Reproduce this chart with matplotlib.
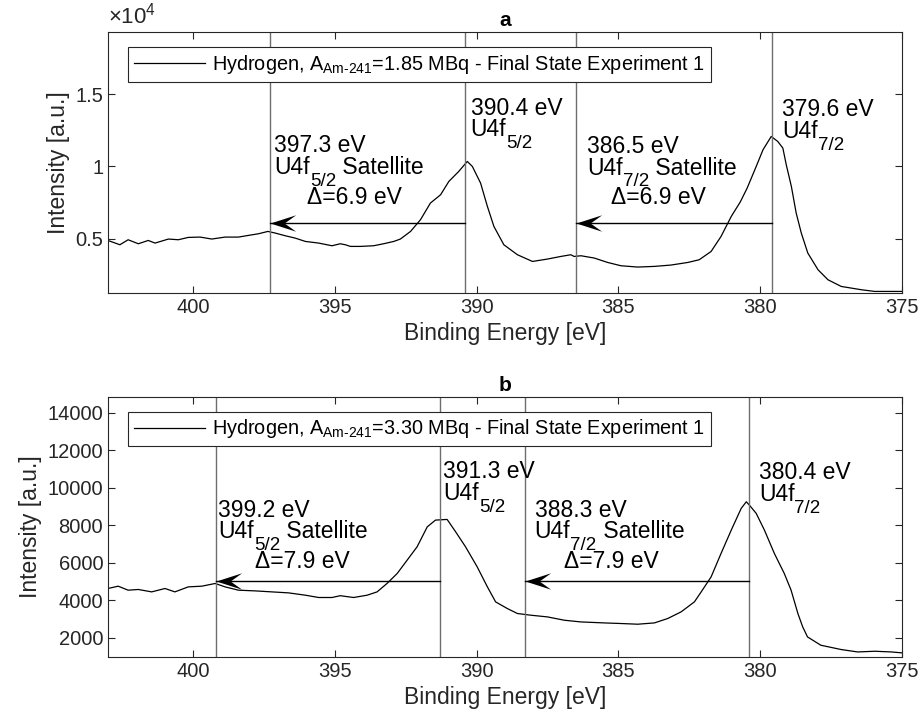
import matplotlib
matplotlib.use("Agg")
import matplotlib.pyplot as plt
import numpy as np
from matplotlib.path import Path
from matplotlib.ticker import FuncFormatter

plt.rcParams['font.family'] = ['Liberation Sans', 'DejaVu Sans']
plt.rcParams['mathtext.fontset'] = 'custom'
plt.rcParams['mathtext.rm'] = 'Liberation Sans'
plt.rcParams['mathtext.it'] = 'Liberation Sans:italic'
plt.rcParams['mathtext.bf'] = 'Liberation Sans:bold'

# ---- panel a: 1.85 MBq ----
energy_a = [403.00, 402.58, 402.29, 401.93, 401.58, 401.34, 400.87, 400.52, 400.17, 399.75,
            399.34, 398.87, 398.40, 398.05, 397.69, 397.36, 397.10, 396.75, 396.40, 396.04,
            395.57, 395.10, 394.81, 394.63, 394.45, 394.10, 393.63, 393.28, 392.92, 392.69,
            392.33, 391.98, 391.63, 391.27, 390.98, 390.63, 390.33, 390.15, 389.86, 389.62,
            389.39, 389.04, 388.56, 388.03, 387.50, 387.03, 386.68, 386.56, 386.32, 385.85,
            385.38, 384.91, 384.32, 383.73, 383.15, 382.55, 382.15, 381.73, 381.38, 381.02,
            380.70, 380.46, 380.14, 379.90, 379.61, 379.38, 379.20, 379.08, 378.90, 378.73,
            378.55, 378.32, 377.96, 377.61, 377.14, 376.43, 375.96, 375.37, 374.96]
intensity_a = [4880, 4585, 4930, 4654, 4882, 4700, 4979, 4931, 5092, 5115,
               4980, 5115, 5115, 5230, 5346, 5507, 5392, 5207, 5046, 4815,
               4700, 4515, 4654, 4585, 4470, 4470, 4516, 4654, 4815, 4977,
               5507, 6314, 7467, 8043, 8963, 9655, 10346, 10000, 8848, 7235,
               5850, 4585, 3893, 3430, 3596, 3776, 3893, 3776, 3824, 3665,
               3361, 3133, 3042, 3088, 3180, 3361, 3548, 4122, 5160, 6542,
               7550, 8500, 10000, 11155, 12075, 11729, 11270, 10118, 8617, 6777,
               5394, 4010, 2856, 2164, 1701, 1473, 1357, 1357, 1357]

# ---- panel b: 3.30 MBq ----
energy_b = [403.00, 402.64, 402.29, 401.93, 401.46, 400.99, 400.64, 400.17, 399.69, 399.22,
            398.87, 398.40, 397.81, 397.22, 396.63, 396.04, 395.57, 395.10, 394.81, 394.34,
            393.86, 393.51, 393.16, 392.80, 392.45, 392.10, 391.74, 391.45, 391.04, 390.74,
            390.39, 389.98, 389.62, 389.33, 388.92, 388.56, 388.09, 387.50, 386.91, 386.33,
            385.50, 384.91, 384.32, 383.73, 383.26, 382.79, 382.32, 382.08, 381.73, 381.38,
            381.02, 380.67, 380.49, 380.38, 380.14, 379.85, 379.50, 379.15, 378.91, 378.67,
            378.50, 378.33, 377.86, 377.14, 376.56, 375.96, 375.37, 374.96]
intensity_b = [4634, 4757, 4544, 4581, 4453, 4634, 4453, 4720, 4757, 4901,
               4720, 4544, 4506, 4453, 4400, 4277, 4154, 4154, 4250, 4154,
               4277, 4453, 4901, 5434, 6144, 6853, 7920, 8277, 8313, 7653,
               6853, 5787, 4720, 3920, 3568, 3301, 3211, 3120, 2944, 2853,
               2800, 2768, 2731, 2800, 3035, 3387, 3920, 4453, 5253, 6501,
               7744, 8900, 9253, 9076, 8634, 7744, 6501, 5434, 4544, 3301,
               2587, 2053, 1611, 1381, 1253, 1291, 1253, 1200]

legend_a = r'Hydrogen, A$_{\mathrm{Am\text{-}241}}$=1.85 MBq - Final State Experiment 1'
legend_b = r'Hydrogen, A$_{\mathrm{Am\text{-}241}}$=3.30 MBq - Final State Experiment 1'

# peak / satellite energies (vertical lines), order: sat 5/2, 5/2, sat 7/2, 7/2
lines_a = [397.3, 390.4, 386.5, 379.6]
lines_b = [399.2, 391.3, 388.3, 380.4]
delta_a = 6.9
delta_b = 7.9

dark = '#262626'
gray = '#6e6e6e'
FS = 16.5      # annotation font
FS_SUB = 13.5  # subscript font
SUB_DROP = 8.4

# notched arrow head (tip at the data point)
head = Path([(0, 0), (1, 0.32), (0.55, 0), (1, -0.32), (0, 0)],
            [Path.MOVETO, Path.LINETO, Path.LINETO, Path.LINETO, Path.CLOSEPOLY])


def arrow(ax, x_from, x_to, y):
    ax.plot([x_from, x_to], [y, y], color='k', lw=1.0)
    ax.plot(x_to, y, marker=head, ms=37, color='k', mew=0)


def sub_line(ax, x, y, dy, main, sub, rest=''):
    # main text, lowered subscript, then the rest on the main baseline
    t = ax.annotate(main, xy=(x, y), xytext=(0, -dy), textcoords='offset points',
                    fontsize=FS, va='baseline', ha='left')
    s = ax.annotate(sub, xy=(1, y), xycoords=(t, 'data'), xytext=(0, -dy - SUB_DROP),
                    textcoords='offset points', fontsize=FS_SUB, va='baseline', ha='left')
    if rest:
        ax.annotate(rest, xy=(1, y), xycoords=(s, 'data'), xytext=(0, -dy),
                    textcoords='offset points', fontsize=FS, va='baseline', ha='left')


def label(ax, x, y, energy, sub, delta=None, indent=0, gaps=(15.5, 21.5)):
    ax.text(x, y, f'{energy} eV', fontsize=FS, va='baseline', ha='left')
    if delta is None:
        sub_line(ax, x, y, gaps[0], 'U4f', sub)
    else:
        sub_line(ax, x, y, gaps[0], 'U4f', sub, ' Satellite')
        ax.annotate(f'Δ={delta} eV', xy=(x, y), xytext=(indent, -gaps[0] - gaps[1]),
                    textcoords='offset points', fontsize=FS, va='baseline', ha='left')


def style(ax, title, ylim, yticks, legend):
    ax.set_xlim(403, 375)
    ax.set_ylim(*ylim)
    ax.set_xticks([400, 395, 390, 385, 380, 375])
    ax.set_yticks(yticks)
    ax.tick_params(direction='in', top=True, right=True, length=5, width=0.8,
                   labelsize=14.5, colors=dark, labelcolor=dark)
    for s in ax.spines.values():
        s.set_color(dark)
        s.set_linewidth(0.8)
    ax.set_xlabel('Binding Energy [eV]', fontsize=16.5, color=dark)
    ax.set_ylabel('Intensity [a.u.]', fontsize=16.5, color=dark)
    ax.set_title(title, fontweight='bold', fontsize=15, pad=4, color='k')
    leg = ax.legend([legend], loc='upper left', bbox_to_anchor=(0.025, 0.943),
                    borderaxespad=0, fancybox=False, framealpha=1, edgecolor=dark,
                    fontsize=14.3, handlelength=3.6, handletextpad=0.35, borderpad=0.3)
    leg.get_frame().set_linewidth(0.8)


fig = plt.figure(figsize=(9.23, 7.25), dpi=100)

# ---------------- a ----------------
ax1 = fig.add_axes([0.117, 0.5959, 0.8602, 0.36])
ax1.plot(energy_a, intensity_a, color='k', lw=0.9)
for e in lines_a:
    ax1.axvline(e, color=gray, lw=1.0)
style(ax1, 'a', (1250, 19300), [5000, 10000, 15000], legend_a)
ax1.yaxis.set_major_formatter(FuncFormatter(lambda v, _: f'{v / 1e4:g}'))
ax1.text(0.0, 1.012, '×10$^{4}$', transform=ax1.transAxes, fontsize=16,
         va='bottom', ha='left', color=dark)

arrow(ax1, lines_a[1], lines_a[0], 6080)
arrow(ax1, lines_a[3], lines_a[2], 6080)
label(ax1, 397.14, 10968, lines_a[0], '5/2', delta_a, indent=23.5)
label(ax1, 390.21, 13576, lines_a[1], '5/2')
label(ax1, 386.11, 10927, lines_a[2], '7/2', delta_a, indent=17.3)
label(ax1, 379.23, 13458, lines_a[3], '7/2')

# ---------------- b ----------------
ax2 = fig.add_axes([0.117, 0.0942, 0.8602, 0.3586])
ax2.plot(energy_b, intensity_b, color='k', lw=0.9)
for e in lines_b:
    ax2.axvline(e, color=gray, lw=1.0)
style(ax2, 'b', (1000, 14850), list(range(2000, 14001, 2000)), legend_b)

arrow(ax2, lines_b[1], lines_b[0], 5050)
arrow(ax2, lines_b[3], lines_b[2], 5050)
label(ax2, 399.11, 8453, lines_b[0], '5/2', delta_b, indent=26.4, gaps=(15.6, 21.6))
label(ax2, 391.18, 10501, lines_b[1], '5/2')
label(ax2, 387.95, 8453, lines_b[2], '7/2', delta_b, indent=21.1, gaps=(15.6, 21.6))
label(ax2, 380.05, 10448, lines_b[3], '7/2')

fig.savefig('out.png', dpi=100)
